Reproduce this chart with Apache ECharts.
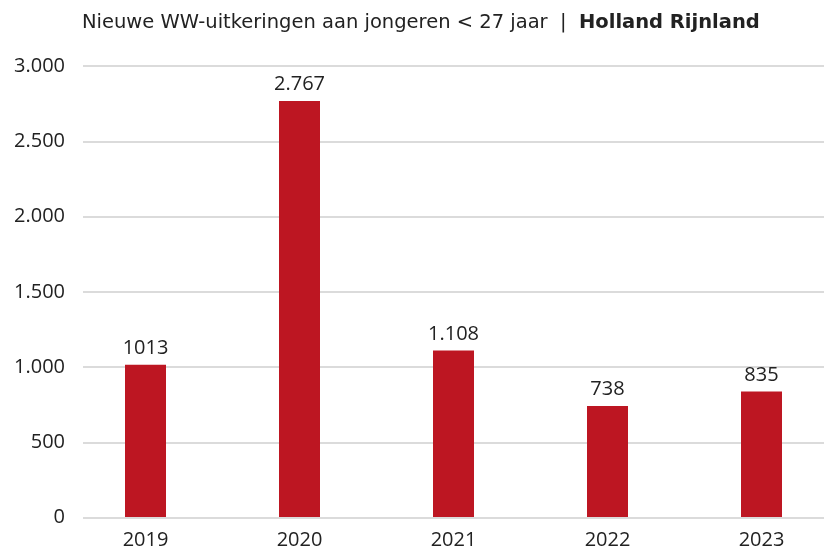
<!DOCTYPE html>
<html>
<head>
<meta charset="utf-8">
<script src="https://cdn.jsdelivr.net/npm/echarts@6/dist/echarts.min.js"></script>
<style>
  html, body { margin: 0; padding: 0; background: #fff; overflow: hidden; }
  /* a bit wider than the window: the last category band runs past the right edge */
  #chart { width: 839px; height: 550px; }
</style>
</head>
<body>
<div id="chart"></div>
<script>
const years = ['2019', '2020', '2021', '2022', '2023']
const uitkeringen = [1013, 2767, 1108, 738, 835]
const barLabels = ['1013', '2.767', '1.108', '738', '835']
const yTicks = [0, 500, 1000, 1500, 2000, 2500, 3000]

const red = '#bd1622'
const labelFont = "'Open Sans', 'Noto Sans', sans-serif"
const fmt = v => String(v).replace(/\B(?=(\d{3})+(?!\d))/g, '.')

const chart = echarts.init(document.getElementById('chart'))
chart.setOption({
  animation: false,
  title: {
    left: 77,
    top: 8,
    text: '{a|Nieuwe WW-uitkeringen aan jongeren < 27 jaar  |  }{b|Holland Rijnland}',
    textStyle: {
      rich: {
        a: { fontFamily: 'DejaVu Sans', fontSize: 19.5, fontWeight: 'normal', color: '#222' },
        b: { fontFamily: 'DejaVu Sans', fontSize: 19.5, fontWeight: 'bold', color: '#222' }
      }
    }
  },
  grid: [
    // bars
    { left: 68.5, right: 0.5, top: 66, bottom: 32.3 },
    // gridlines + y labels
    { left: 83, right: 15, top: 66, bottom: 32.3 }
  ],
  xAxis: [
    {
      type: 'category',
      gridIndex: 0,
      data: years,
      axisLine: { show: false },
      axisTick: { show: false },
      axisLabel: { margin: 13, fontFamily: labelFont, fontSize: 20, color: '#222' }
    },
    { type: 'value', gridIndex: 1, show: false }
  ],
  yAxis: [
    { type: 'value', gridIndex: 0, min: 0, max: yTicks[yTicks.length - 1], show: false },
    {
      type: 'value',
      gridIndex: 1,
      min: yTicks[0],
      max: yTicks[yTicks.length - 1],
      interval: yTicks[1] - yTicks[0],
      axisLine: { show: false },
      axisTick: { show: false },
      splitLine: { lineStyle: { color: '#cfcfcf', width: 1.5 } },
      axisLabel: {
        margin: 18,
        padding: [6, 0, 0, 0],
        fontFamily: labelFont,
        fontSize: 20,
        color: '#222',
        formatter: fmt
      }
    }
  ],
  series: [
    {
      type: 'bar',
      xAxisIndex: 0,
      yAxisIndex: 0,
      data: uitkeringen,
      barWidth: 41,
      itemStyle: { color: red },
      label: {
        show: true,
        position: 'top',
        distance: 6.5,
        fontFamily: labelFont,
        fontSize: 20,
        color: '#222',
        formatter: p => barLabels[p.dataIndex]
      }
    }
  ]
})
</script>
</body>
</html>
